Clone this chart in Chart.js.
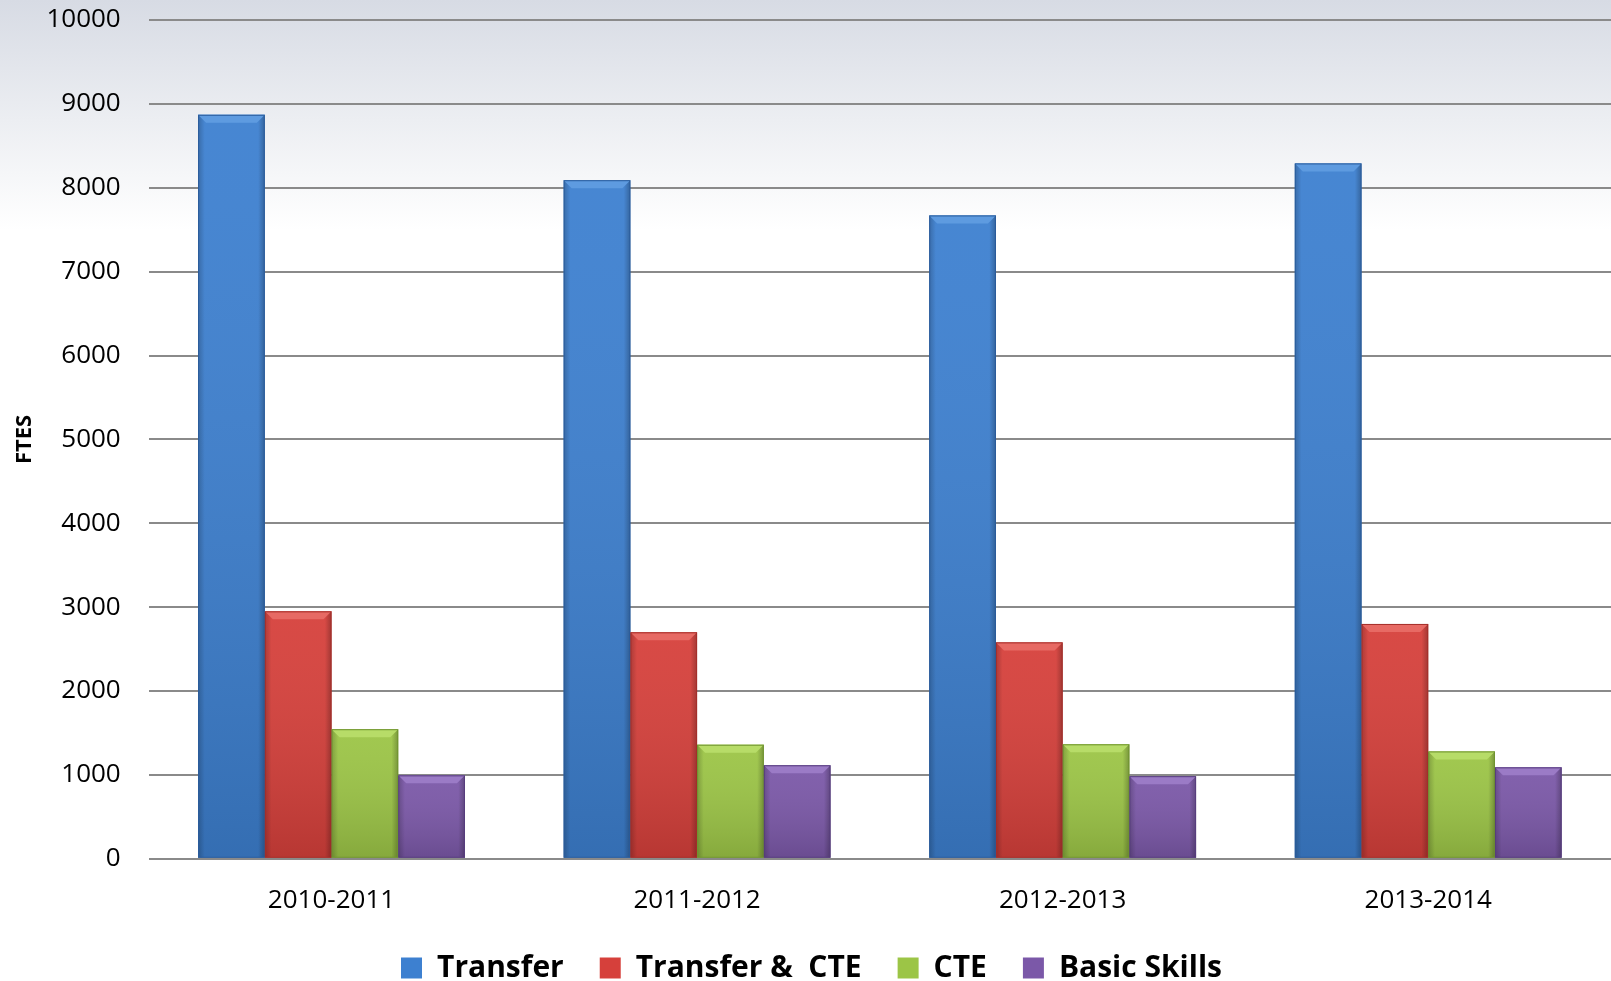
<!DOCTYPE html>
<html>
<head>
<meta charset="utf-8">
<script src="https://cdn.jsdelivr.net/npm/chart.js@4.4.1/dist/chart.umd.min.js"></script>
<style>
    html, body { margin: 0; padding: 0; }
    body {
        width: 1611px;
        height: 981px;
        background: linear-gradient(to bottom, #d7dbe4 0px, #eceef2 120px, #ffffff 230px, #ffffff 100%);
    }
    .chart-box { position: relative; width: 1611px; height: 981px; }
</style>
</head>
<body>
<div class="chart-box"><canvas id="myBarChart"></canvas></div>
<script>
// Data
const years = ['2010-2011', '2011-2012', '2012-2013', '2013-2014'];
const transfer = [8870, 8090, 7670, 8290];
const transferCte = [2950, 2700, 2580, 2800];
const cte = [1545, 1360, 1365, 1280];
const basicSkills = [995, 1115, 985, 1090];
const seriesNames = ['Transfer', 'Transfer &  CTE', 'CTE', 'Basic Skills'];

// main, dark edge, light top
const palette = [
    ['#3d80d0', '#2a5c9c', '#5e9be0'],
    ['#d6403b', '#a42e2a', '#e76a64'],
    ['#9cc546', '#6f9330', '#b7dc68'],
    ['#7b58a8', '#573d7e', '#9b7bc6']
];

// Shade each bar so it looks bevelled like the original
const bevelPlugin = {
    id: 'bevel',
    afterDatasetsDraw(chart) {
        const ctx = chart.ctx;
        chart.data.datasets.forEach(function (ds, i) {
            const cols = palette[i];
            chart.getDatasetMeta(i).data.forEach(function (bar) {
                const left = bar.x - bar.width / 2;
                const right = bar.x + bar.width / 2;
                const top = bar.y;
                const bottom = bar.base;
                const b = 8;
                ctx.save();
                // darker towards the bottom
                const gv = ctx.createLinearGradient(0, top, 0, bottom);
                gv.addColorStop(0, 'rgba(255,255,255,0.05)');
                gv.addColorStop(1, 'rgba(0,0,0,0.14)');
                ctx.fillStyle = gv;
                ctx.fillRect(left, top, right - left, bottom - top);
                // darker side edges
                const g = ctx.createLinearGradient(left, 0, right, 0);
                g.addColorStop(0, 'rgba(0,0,0,0.20)');
                g.addColorStop(0.1, 'rgba(0,0,0,0)');
                g.addColorStop(0.9, 'rgba(0,0,0,0)');
                g.addColorStop(1, 'rgba(0,0,0,0.25)');
                ctx.fillStyle = g;
                ctx.fillRect(left, top, right - left, bottom - top);
                // top bevel
                ctx.fillStyle = cols[2];
                ctx.beginPath();
                ctx.moveTo(left, top);
                ctx.lineTo(right, top);
                ctx.lineTo(right - b, top + b);
                ctx.lineTo(left + b, top + b);
                ctx.closePath();
                ctx.fill();
                ctx.strokeStyle = cols[1];
                ctx.lineWidth = 1;
                ctx.strokeRect(left + 0.5, top + 0.5, right - left - 1, bottom - top - 1);
                ctx.restore();
            });
        });
    }
};

const ctxBar = document.getElementById('myBarChart').getContext('2d');
new Chart(ctxBar, {
    type: 'bar',
    data: {
        labels: years,
        datasets: [transfer, transferCte, cte, basicSkills].map(function (vals, i) {
            return {
                label: seriesNames[i],
                data: vals,
                backgroundColor: palette[i][0],
                borderWidth: 0,
                categoryPercentage: 0.73,
                barPercentage: 1.0
            };
        })
    },
    options: {
        responsive: true,
        maintainAspectRatio: false,
        animation: false,
        layout: { padding: { top: 20, right: 0, left: 12, bottom: -12 } },
        plugins: {
            tooltip: { enabled: false },
            legend: {
                position: 'bottom',
                labels: {
                    color: '#000',
                    font: { family: 'Open Sans', size: 30, weight: 'bold' },
                    boxWidth: 21,
                    boxHeight: 21,
                    padding: 36
                }
            }
        },
        scales: {
            x: {
                grid: { display: false },
                border: { display: false },
                ticks: {
                    color: '#000',
                    font: { family: 'Open Sans', size: 26 },
                    padding: 18
                },
                afterFit: function (scale) {
                    scale.height -= 17;
                }
            },
            y: {
                min: 0,
                max: 10000,
                ticks: {
                    stepSize: 1000,
                    color: '#000',
                    font: { family: 'Open Sans', size: 26 },
                    padding: 28,
                    callback: function (v) { return String(v); }
                },
                grid: { color: '#8a8a8a', lineWidth: 2, drawTicks: false },
                border: { display: false },
                title: {
                    display: true,
                    text: 'FTES',
                    color: '#000',
                    font: { family: 'Open Sans', size: 22, weight: 'bold' },
                    padding: { top: 0, bottom: 8 }
                },
                afterFit: function (scale) {
                    scale.width -= 28;
                    scale.paddingTop = 0;
                }
            }
        }
    },
    plugins: [bevelPlugin]
});
</script>
</body>
</html>
